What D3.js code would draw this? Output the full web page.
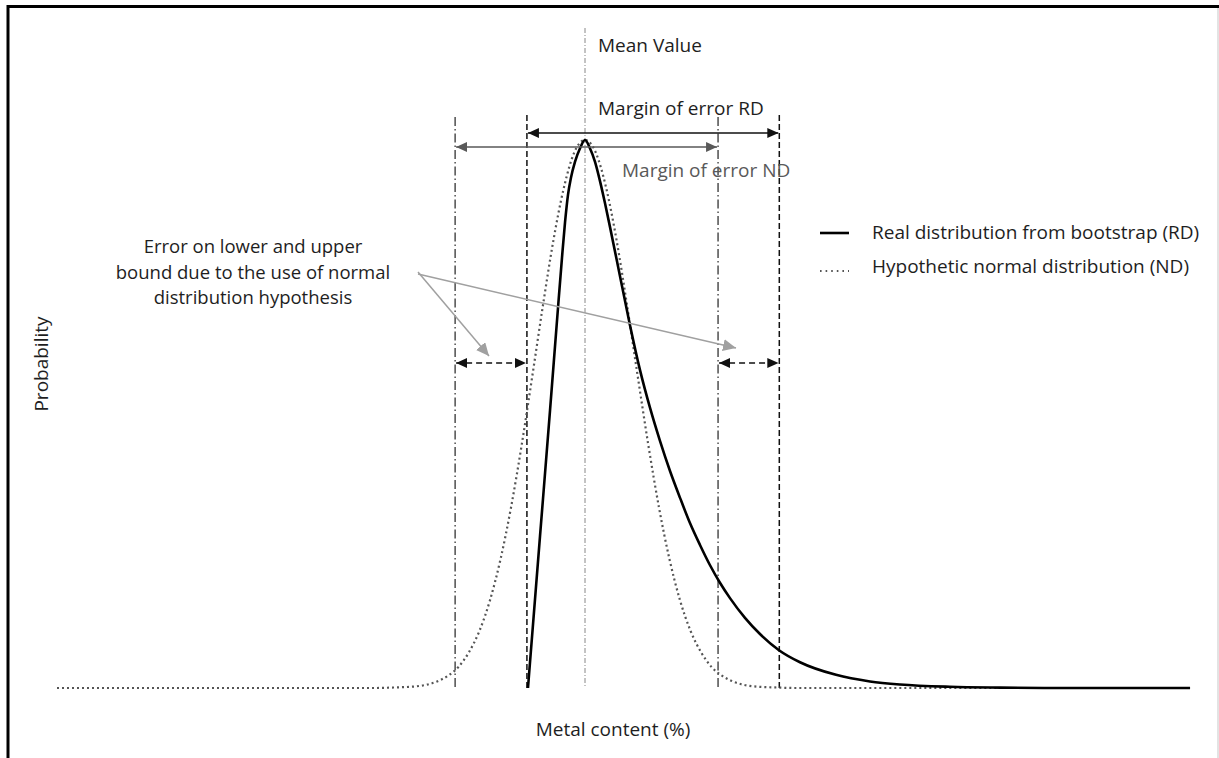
<!DOCTYPE html>
<html>
<head>
<meta charset="utf-8">
<script src="https://cdn.jsdelivr.net/npm/d3@7"></script>
<style>
  html, body { margin: 0; padding: 0; background: #fff; }
  svg { display: block; }
  text { font-family: "Open Sans", "Noto Sans", sans-serif; }
</style>
</head>
<body>
<svg id="chart" width="1219" height="758"></svg>
<script>
// ---- Data (x = metal content in arbitrary units, y = relative probability) ----
const ndX = [0, 30, 32, 34, 36, 37, 38, 39, 40, 41, 42, 43, 44, 45, 46, 47, 48, 49, 50,
             51, 52, 53, 54, 55, 56, 57, 58, 59, 60, 61, 62, 63, 64, 66, 68, 70, 107.3];
const ndY = [0, 0, 0.001, 0.003, 0.012, 0.022, 0.038, 0.065, 0.104, 0.160, 0.235, 0.330, 0.443, 0.568, 0.696, 0.816, 0.913, 0.978, 1.0,
             0.978, 0.913, 0.816, 0.696, 0.568, 0.443, 0.330, 0.235, 0.160, 0.104, 0.065, 0.038, 0.022, 0.012, 0.003, 0.001, 0, 0];

const rdX = [44.60, 45.74, 46.69, 47.44, 47.82, 48.11, 48.39, 48.67, 49.05, 49.53, 50.00,
             50.47, 50.95, 51.42, 51.89, 52.37, 53.31, 54.26, 55.21, 56.16, 57.10, 58.05, 59.00,
             59.94, 60.89, 61.84, 62.78, 63.73, 65.15, 66.57, 68.37, 70.36, 73.77, 76.99, 79.83,
             84.56, 89.30, 94.98, 107.29];
const rdY = [0, 0.277, 0.507, 0.693, 0.785, 0.850, 0.900, 0.931, 0.960, 0.985, 1.0,
             0.985, 0.960, 0.925, 0.885, 0.841, 0.752, 0.662, 0.580, 0.511, 0.451, 0.396, 0.347,
             0.301, 0.261, 0.224, 0.192, 0.164, 0.128, 0.0985, 0.069, 0.047, 0.024, 0.012, 0.0064,
             0.0022, 0.0007, 0, 0];

const meanValue = 50;
const ndBounds = [37.7, 62.6];
const rdBounds = [44.5, 68.4];

const legendLabels = ["Real distribution from bootstrap (RD)", "Hypothetic normal distribution (ND)"];
const annotationLines = ["Error on lower and upper", "bound due to the use of normal", "distribution hypothesis"];
const xAxisTitle = "Metal content (%)";
const yAxisTitle = "Probability";

// ---- Scales ----
const svg = d3.select("#chart");
const x = d3.scaleLinear().domain([0, 110]).range([57, 57 + 110 * 10.56]);
const y = d3.scaleLinear().domain([0, 1]).range([688, 140]);

// ---- Frame ----
svg.append("line").attr("x1", 8).attr("x2", 8).attr("y1", 5).attr("y2", 758)
  .attr("stroke", "#000").attr("stroke-width", 3);
svg.append("line").attr("x1", 7).attr("x2", 1219).attr("y1", 6.5).attr("y2", 6.5)
  .attr("stroke", "#000").attr("stroke-width", 3);
svg.append("line").attr("x1", 1218).attr("x2", 1218).attr("y1", 8).attr("y2", 758)
  .attr("stroke", "#d0d0d0").attr("stroke-width", 1.2);

// ---- Markers ----
const defs = svg.append("defs");
function marker(id, color, len, wid) {
  defs.append("marker").attr("id", id)
    .attr("viewBox", `0 0 ${len} ${wid}`)
    .attr("refX", len).attr("refY", wid / 2)
    .attr("markerWidth", len).attr("markerHeight", wid)
    .attr("markerUnits", "userSpaceOnUse")
    .attr("orient", "auto-start-reverse")
    .append("path").attr("d", `M0,0 L${len},${wid / 2} L0,${wid} Z`).attr("fill", color);
}
marker("arrBlack", "#111", 11, 10);
marker("arrGray", "#595959", 11, 10);
marker("arrLight", "#a0a0a0", 13, 12);

// ---- Vertical reference lines ----
svg.append("line").attr("x1", x(meanValue)).attr("x2", x(meanValue))
  .attr("y1", 28).attr("y2", y(0))
  .attr("stroke", "#888").attr("stroke-width", 1).attr("stroke-dasharray", "5,2,1,2");

ndBounds.forEach(b => {
  svg.append("line").attr("x1", x(b)).attr("x2", x(b))
    .attr("y1", 117).attr("y2", y(0))
    .attr("stroke", "#333").attr("stroke-width", 1.3).attr("stroke-dasharray", "9,3,1.5,3");
});
rdBounds.forEach(b => {
  svg.append("line").attr("x1", x(b)).attr("x2", x(b))
    .attr("y1", 115).attr("y2", y(0))
    .attr("stroke", "#111").attr("stroke-width", 1.5).attr("stroke-dasharray", "6,3");
});

// ---- Curves ----
const curveLine = d3.line().x(d => x(d[0])).y(d => y(d[1])).curve(d3.curveMonotoneX);
const ndData = ndX.map((v, i) => [v, ndY[i]]);
const rdData = rdX.map((v, i) => [v, rdY[i]]);

svg.append("path").attr("d", curveLine(ndData)).attr("fill", "none")
  .attr("stroke", "#555").attr("stroke-width", 2.2).attr("stroke-dasharray", "2,3");
svg.append("path").attr("d", curveLine(rdData)).attr("fill", "none")
  .attr("stroke", "#000").attr("stroke-width", 2.6).attr("stroke-linejoin", "round");

// ---- Margin arrows ----
svg.append("line").attr("x1", x(rdBounds[0]) + 1).attr("x2", x(rdBounds[1]) - 1)
  .attr("y1", 133).attr("y2", 133)
  .attr("stroke", "#111").attr("stroke-width", 1.6)
  .attr("marker-start", "url(#arrBlack)").attr("marker-end", "url(#arrBlack)");
svg.append("line").attr("x1", x(ndBounds[0]) + 1).attr("x2", x(ndBounds[1]) - 1)
  .attr("y1", 147).attr("y2", 147)
  .attr("stroke", "#595959").attr("stroke-width", 1.6)
  .attr("marker-start", "url(#arrGray)").attr("marker-end", "url(#arrGray)");

// dashed double arrows for the bound errors
[[ndBounds[0], rdBounds[0]], [ndBounds[1], rdBounds[1]]].forEach(p => {
  svg.append("line").attr("x1", x(p[0]) + 1).attr("x2", x(p[1]) - 1)
    .attr("y1", 363).attr("y2", 363)
    .attr("stroke", "#111").attr("stroke-width", 1.6).attr("stroke-dasharray", "6,4")
    .attr("marker-start", "url(#arrBlack)").attr("marker-end", "url(#arrBlack)");
});

// callout arrows
svg.append("line").attr("x1", 418).attr("y1", 272).attr("x2", 489).attr("y2", 356)
  .attr("stroke", "#a0a0a0").attr("stroke-width", 1.5).attr("marker-end", "url(#arrLight)");
svg.append("line").attr("x1", 418).attr("y1", 274).attr("x2", 736).attr("y2", 348)
  .attr("stroke", "#a0a0a0").attr("stroke-width", 1.5).attr("marker-end", "url(#arrLight)");

// ---- Texts ----
const fs = 19;
svg.append("text").attr("x", 598).attr("y", 52).attr("font-size", fs).attr("fill", "#1e1e1e").text("Mean Value");
svg.append("text").attr("x", 598).attr("y", 115).attr("font-size", fs).attr("fill", "#1e1e1e").text("Margin of error RD");
svg.append("text").attr("x", 622).attr("y", 177).attr("font-size", fs).attr("fill", "#595959").text("Margin of error ND");

annotationLines.forEach((t, i) => {
  svg.append("text").attr("x", 253).attr("y", 253 + i * 25.5).attr("text-anchor", "middle")
    .attr("font-size", 18.5).attr("fill", "#1e1e1e").text(t);
});

// legend
svg.append("line").attr("x1", 820).attr("x2", 849).attr("y1", 233).attr("y2", 233)
  .attr("stroke", "#000").attr("stroke-width", 2.6);
svg.append("line").attr("x1", 820).attr("x2", 849).attr("y1", 271).attr("y2", 271)
  .attr("stroke", "#555").attr("stroke-width", 2).attr("stroke-dasharray", "1.6,4");
legendLabels.forEach((t, i) => {
  svg.append("text").attr("x", 872).attr("y", 239 + i * 34).attr("font-size", fs).attr("fill", "#1e1e1e").text(t);
});

// axis titles
svg.append("text").attr("x", 613).attr("y", 736).attr("text-anchor", "middle")
  .attr("font-size", fs).attr("fill", "#1e1e1e").text(xAxisTitle);
svg.append("text").attr("transform", "translate(48,364) rotate(-90)").attr("text-anchor", "middle")
  .attr("font-family", "Liberation Sans, Arial, sans-serif")
  .attr("font-size", fs).attr("fill", "#1e1e1e").text(yAxisTitle);
</script>
</body>
</html>
